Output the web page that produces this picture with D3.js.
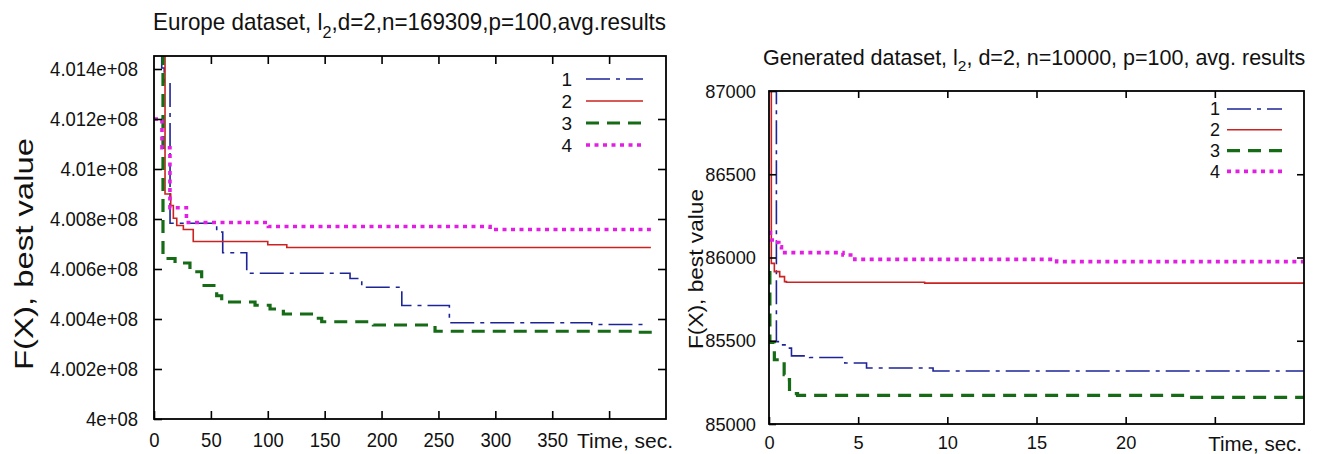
<!DOCTYPE html>
<html>
<meta charset="utf-8">
<style>
    body { margin: 0; background: #fff; }
    svg { display: block; font-family: "Liberation Sans", Arial, sans-serif; }
</style>
<body>
<svg width="1326" height="454"></svg>
<script src="https://d3js.org/d3.v7.min.js"></script>
<script>

    // Europe dataset, time (sec) vs best value (units of 1e+08)
    let euro1 = [[0, 4.0160], [6.8, 4.01404], [9, 4.01341], [14.1, 4.00783], [55.1, 4.00748], [60.4, 4.00665],
        [81.5, 4.00583], [172.3, 4.00562], [182.6, 4.00527], [217.8, 4.00454], [259.6, 4.00385], [384.8, 4.00378], [434.6, 4.00378]];
    let euro2 = [[0, 4.0160], [9.7, 4.0090], [14.7, 4.00854], [17, 4.00803], [20, 4.00774], [25.8, 4.00758], [34.5, 4.0071],
        [100, 4.00697], [116.7, 4.00686], [436.7, 4.00686]];
    let euro3 = [[0, 4.0160], [7.9, 4.00642], [18.5, 4.00624], [31.6, 4.00589], [41.9, 4.00534], [55.1, 4.00493], [59.5, 4.00468],
        [88.8, 4.00455], [102, 4.0044], [113.7, 4.0042], [140, 4.00403], [147.4, 4.00389], [192.8, 4.00376], [247, 4.00351],
        [421, 4.00347], [439.6, 4.00347]];
    let euro4 = [[0, 4.0120], [7, 4.01085], [14, 4.00845], [28.5, 4.00786], [100.5, 4.0077], [295.4, 4.00758], [436.7, 4.00758]];
    let euroXTicks = [0, 50, 100, 150, 200, 250, 300, 350, 400];
    let euroYTicks = [4, 4.002, 4.004, 4.006, 4.008, 4.01, 4.012, 4.014];

    // Generated dataset
    let gen1 = [[0, 87500], [0.415, 85495], [0.70, 85475], [0.98, 85456], [1.26, 85409], [2.28, 85399], [4.25, 85366],
        [5.47, 85336], [9.2, 85318], [30, 85318]];
    let gen2 = [[0, 87500], [0.13, 85965], [0.3, 85915], [0.6, 85885], [0.87, 85855], [0.98, 85851], [8.73, 85846], [30, 85846]];
    let gen3 = [[0, 85910], [0.05, 85490], [0.3, 85386], [0.85, 85296], [1.05, 85266], [1.15, 85196], [1.35, 85182],
        [1.6, 85172], [23.3, 85160], [30, 85160]];
    let gen4 = [[0, 86150], [0.08, 86105], [0.3, 86090], [0.55, 86065], [0.7, 86029], [4.15, 86015], [4.81, 85989],
        [16.13, 85975], [30, 85975]];
    let genXTicks = [0, 5, 10, 15, 20, 25];
    let genYTicks = [85000, 85500, 86000, 86500, 87000];

    let legendNames = ["1", "2", "3", "4"];

    let styles = [
        {color: "#1c2496", width: 1.6, dash: "24,6,4,6"},
        {color: "#cc2222", width: 1.6, dash: null},
        {color: "#166b16", width: 3.2, dash: "13,8"},
        {color: "#e31ee3", width: 3.6, dash: "4,4.5"}
    ];

    let svg = d3.select("svg");

    function squeeze(sel, k) {
        if (k === 1) return;
        sel.each(function () {
            let w = this.getComputedTextLength();
            if (w > 0) d3.select(this).attr("textLength", w * k).attr("lengthAdjust", "spacingAndGlyphs");
        });
    }

    function drawPanel(o) {
        let g = svg.append("g");
        let x = d3.scaleLinear().domain(o.xDomain).range([o.left, o.right]);
        let y = d3.scaleLinear().domain(o.yDomain).range([o.bottom, o.top]);

        svg.append("clipPath").attr("id", o.id)
            .append("rect")
            .attr("x", o.left).attr("y", o.top)
            .attr("width", o.right - o.left).attr("height", o.bottom - o.top);

        let line = d3.line()
            .x(function (d) { return x(d[0]); })
            .y(function (d) { return y(d[1]); })
            .curve(d3.curveStepAfter);

        g.append("g").attr("clip-path", "url(#" + o.id + ")")
            .selectAll("path")
            .data(o.series)
            .enter().append("path")
            .attr("d", line)
            .attr("fill", "none")
            .attr("stroke", function (d, i) { return styles[i].color; })
            .attr("stroke-width", function (d, i) { return styles[i].width; })
            .attr("stroke-dasharray", function (d, i) { return styles[i].dash; });

        let last = o.xTicks[o.xTicks.length - 1];

        let bottom = g.append("g")
            .attr("transform", "translate(0," + o.bottom + ")")
            .call(d3.axisBottom(x).tickValues(o.xTicks).tickSizeInner(-o.tick).tickSizeOuter(0)
                .tickPadding(o.xPad)
                .tickFormat(function (d) { return d === last ? "" : d; }));
        let top = g.append("g")
            .attr("transform", "translate(0," + o.top + ")")
            .call(d3.axisTop(x).tickValues(o.xTicks.slice(1)).tickSizeInner(-o.tick).tickSizeOuter(0).tickFormat(""));
        let left = g.append("g")
            .attr("transform", "translate(" + o.left + ",0)")
            .call(d3.axisLeft(y).tickValues(o.yTicks).tickSizeInner(-o.tick).tickSizeOuter(0)
                .tickPadding(o.yPad).tickFormat(o.yFormat));
        let right = g.append("g")
            .attr("transform", "translate(" + o.right + ",0)")
            .call(d3.axisRight(y).tickValues(o.yTicks.slice(1, -1)).tickSizeInner(-o.tick).tickSizeOuter(0).tickFormat(""));

        [bottom, top, left, right].forEach(function (a) {
            a.select(".domain").remove();
            a.selectAll("line").attr("stroke", "#000").attr("stroke-width", 1.6);
            a.selectAll("text").attr("fill", "#111").attr("font-size", o.tickFont)
                .attr("font-family", "Liberation Sans, Arial, sans-serif");
            squeeze(a.selectAll("text"), o.sq);
        });

        g.append("rect")
            .attr("x", o.left).attr("y", o.top)
            .attr("width", o.right - o.left).attr("height", o.bottom - o.top)
            .attr("fill", "none").attr("stroke", "#000").attr("stroke-width", 1.8);

        // title with subscript
        let t = g.append("text")
            .attr("transform", "translate(" + o.titleX + "," + o.titleY + ") scale(" + o.titleSx + ",1)")
            .attr("font-size", o.titleFont).attr("fill", "#111");
        t.append("tspan").text(o.title[0]);
        t.append("tspan").attr("font-size", o.titleFont * 0.72).attr("dy", o.subDy).text("2");
        t.append("tspan").attr("dy", -o.subDy).text(o.title[1]);

        g.append("text")
            .attr("transform", "translate(" + o.yLabelX + "," + o.yLabelY + ") rotate(-90)")
            .attr("text-anchor", "middle")
            .attr("font-size", o.yLabelFont)
            .attr("textLength", o.yLabelLen)
            .attr("lengthAdjust", "spacingAndGlyphs")
            .attr("fill", "#111")
            .text("F(X), best value");

        g.append("text")
            .attr("x", o.timeX).attr("y", o.timeY)
            .attr("text-anchor", o.timeAnchor)
            .attr("font-size", o.timeFont)
            .attr("fill", "#111")
            .text("Time, sec.");

        let legend = g.append("g")
            .selectAll("g")
            .data(legendNames)
            .enter().append("g")
            .attr("transform", function (d, i) {
                return "translate(0," + (o.legY + i * o.legGap) + ")";
            });
        legend.append("text")
            .attr("x", o.legX)
            .attr("dy", "0.35em")
            .attr("text-anchor", "end")
            .attr("font-size", o.legFont)
            .attr("fill", "#111")
            .text(function (d) { return d; });
        legend.append("line")
            .attr("x1", o.legX + o.legGapX).attr("x2", o.legX + o.legGapX + o.legLen)
            .attr("stroke", function (d, i) { return styles[i].color; })
            .attr("stroke-width", function (d, i) { return styles[i].width; })
            .attr("stroke-dasharray", function (d, i) { return styles[i].dash; });
    }

    drawPanel({
        id: "clipEuro", series: [euro1, euro2, euro3, euro4],
        left: 154, right: 666, top: 56, bottom: 419,
        xDomain: [0, 450], yDomain: [4, 4.01452],
        xTicks: euroXTicks, yTicks: euroYTicks,
        yFormat: function (d) { return (+d.toFixed(3)) + "e+08"; },
        tick: 8, xPad: 13, yPad: 16, tickFont: 21, sq: 0.88,
        title: ["Europe dataset, l", ",d=2,n=169309,p=100,avg.results"],
        titleX: 153, titleY: 30, titleFont: 23, titleSx: 0.975, subDy: 8,
        yLabelX: 33, yLabelY: 254, yLabelFont: 26, yLabelLen: 232,
        timeX: 577, timeAnchor: "start", timeY: 448, timeFont: 21,
        legX: 572, legY: 79, legGap: 22, legGapX: 14, legLen: 57, legFont: 19
    });

    drawPanel({
        id: "clipGen", series: [gen1, gen2, gen3, gen4],
        left: 769, right: 1304, top: 91, bottom: 424,
        xDomain: [0, 30], yDomain: [85000, 87000],
        xTicks: genXTicks, yTicks: genYTicks,
        yFormat: function (d) { return d; },
        tick: 7, xPad: 12, yPad: 13, tickFont: 19, sq: 0.96,
        title: ["Generated dataset, l", ",  d=2, n=10000, p=100, avg. results"],
        titleX: 763, titleY: 65, titleFont: 21.5, titleSx: 1, subDy: 6,
        yLabelX: 703, yLabelY: 269, yLabelFont: 21, yLabelLen: 160,
        timeX: 1302, timeAnchor: "end", timeY: 451, timeFont: 20.5,
        legX: 1220, legY: 109, legGap: 20.8, legGapX: 7, legLen: 55, legFont: 18
    });

</script>
</body>
</html>
